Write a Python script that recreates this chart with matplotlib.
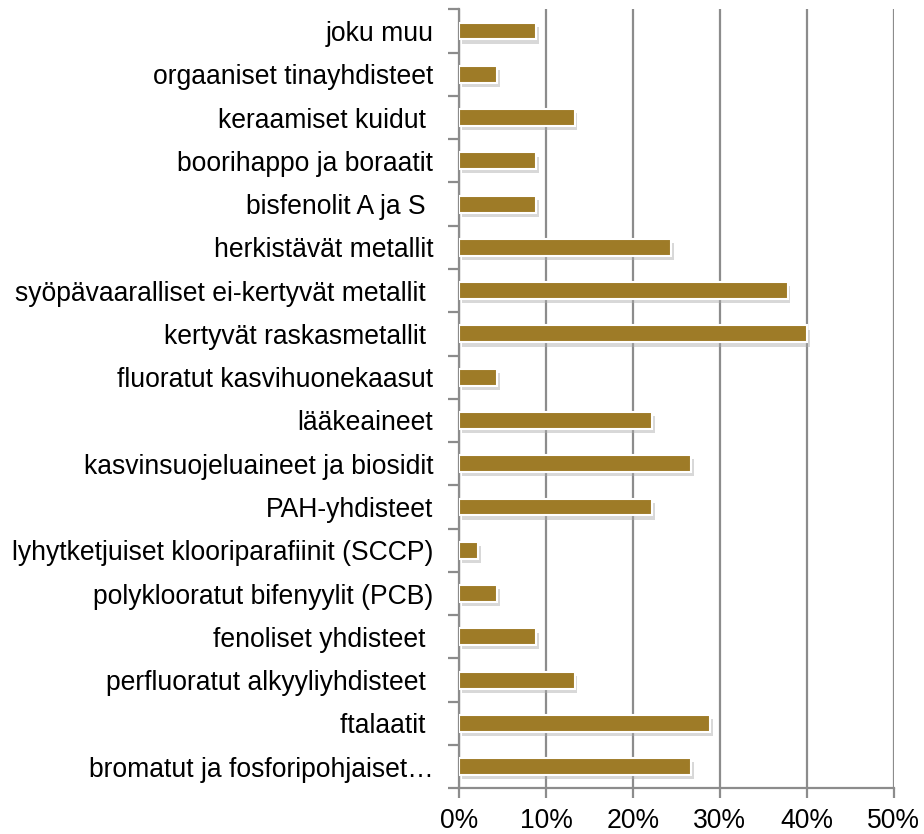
import matplotlib.pyplot as plt
import matplotlib.patheffects as pe
from matplotlib.ticker import FixedLocator, PercentFormatter

plt.rcParams['font.family'] = ['Liberation Sans', 'DejaVu Sans']

# categories from bottom to top
categories = [
    'bromatut ja fosforipohjaiset…',
    'ftalaatit ',
    'perfluoratut alkyyliyhdisteet ',
    'fenoliset yhdisteet ',
    'polyklooratut bifenyylit (PCB)',
    'lyhytketjuiset klooriparafiinit (SCCP)',
    'PAH-yhdisteet',
    'kasvinsuojeluaineet ja biosidit',
    'lääkeaineet',
    'fluoratut kasvihuonekaasut',
    'kertyvät raskasmetallit ',
    'syöpävaaralliset ei-kertyvät metallit ',
    'herkistävät metallit',
    'bisfenolit A ja S ',
    'boorihappo ja boraatit',
    'keraamiset kuidut ',
    'orgaaniset tinayhdisteet',
    'joku muu',
]
shares = [26.7, 28.9, 13.3, 8.9, 4.4, 2.2, 22.2, 26.7, 22.2, 4.4,
          40.0, 37.8, 24.4, 8.9, 8.9, 13.3, 4.4, 8.9]
x_ticks = [0, 10, 20, 30, 40, 50]

bar_color = '#9e7b27'
grid_color = '#8c8c8c'
label_size = 19.1

fig = plt.figure(figsize=(9.24, 8.34), dpi=100)
ax = fig.add_axes([0.4968, 0.0548, 0.4704, 0.934])

ypos = list(range(len(categories)))
ax.barh(ypos, shares, height=0.39, color=bar_color, edgecolor='white',
        linewidth=1.5, zorder=3,
        path_effects=[pe.SimplePatchShadow(offset=(2, -3), shadow_rgbFace='#aaaaaa', alpha=0.45),
                      pe.Normal()])

ax.set_xlim(0, 50)
ax.set_ylim(-0.5, len(categories) - 0.5)
ax.xaxis.set_major_locator(FixedLocator(x_ticks))
ax.xaxis.set_major_formatter(PercentFormatter(decimals=0))
ax.grid(axis='x', color=grid_color, linewidth=1.6, zorder=0)

ax.set_yticks(ypos)
ax.set_yticklabels(categories)
ax.set_yticks([i - 0.5 for i in range(len(categories) + 1)], minor=True)
ax.tick_params(axis='y', which='major', length=0, pad=18.5, labelsize=label_size)
ax.tick_params(axis='y', which='minor', length=8, width=1.6, color=grid_color)
ax.tick_params(axis='x', which='major', length=7, width=1.6, color=grid_color,
               labelsize=label_size, pad=7)

for side in ['top', 'right']:
    ax.spines[side].set_visible(False)
for side in ['left', 'bottom']:
    ax.spines[side].set_color(grid_color)
    ax.spines[side].set_linewidth(1.6)

plt.savefig('out.png', dpi=100)
